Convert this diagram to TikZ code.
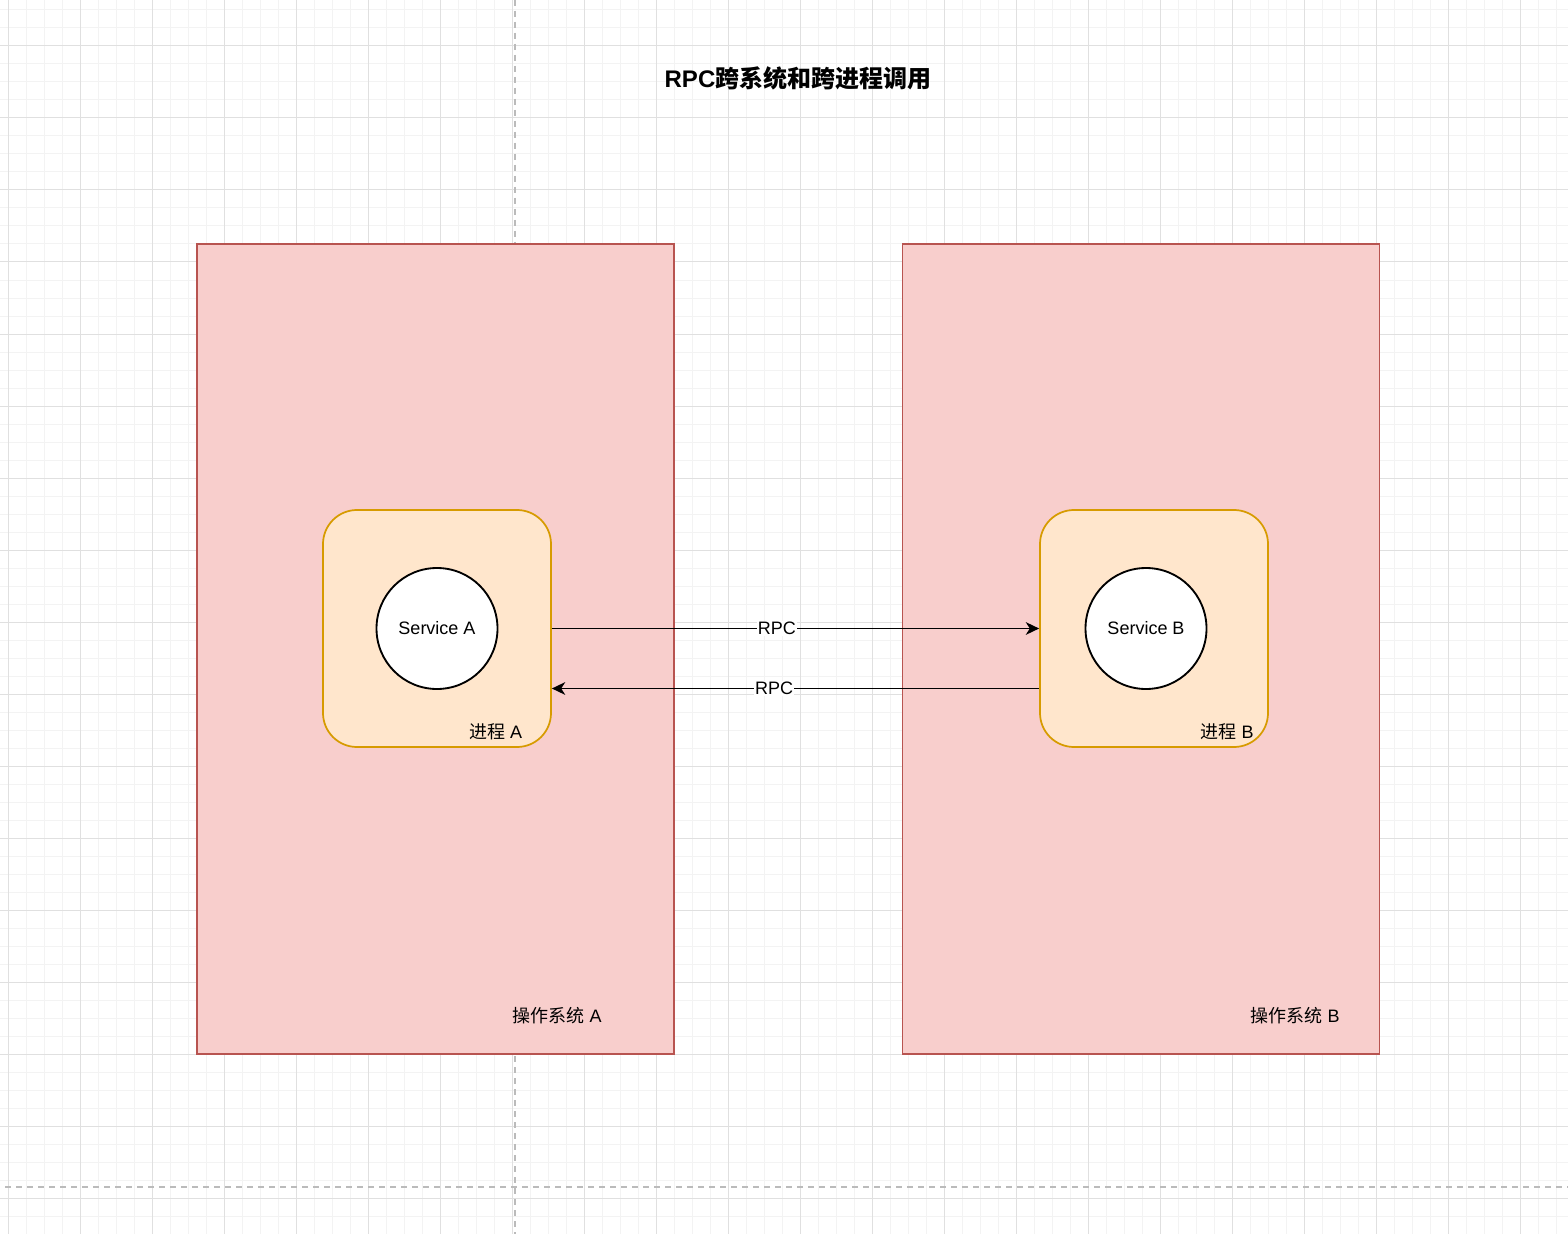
\documentclass[tikz,border=0pt]{standalone}
\usepackage{fontspec}
\setmainfont{Liberation Sans}
\newfontfamily\cjk{Noto Sans CJK SC}
\usetikzlibrary{arrows.meta,calc}
\definecolor{osfill}{HTML}{F8CECC}
\definecolor{osdraw}{HTML}{B85450}
\definecolor{prfill}{HTML}{FFE6CC}
\definecolor{prdraw}{HTML}{D79B00}
\definecolor{gridmajor}{HTML}{E0E0E0}
\definecolor{gridminor}{HTML}{F3F3F3}
\definecolor{guide}{HTML}{BBBBBB}
\begin{document}
\begin{tikzpicture}[x=0.75pt,y=-0.75pt,
  osbox/.style={draw=osdraw,fill=osfill,line width=1.3pt,minimum width=357.75pt,minimum height=607.5pt,inner sep=0pt},
  procbox/.style={draw=prdraw,fill=prfill,line width=1.3pt,rounded corners=25.5pt,minimum width=171pt,minimum height=177.75pt,inner sep=0pt},
  svc/.style={circle,draw=black,fill=white,line width=1.4pt,minimum size=90.75pt,inner sep=0pt,font=\fontsize{13.5}{16}\selectfont},
  lbl/.style={font=\fontsize{13.5}{16}\selectfont,inner sep=1pt},
  rpc/.style={-{Stealth[length=10pt,width=9.5pt,inset=3pt]},line width=1.4pt},
  rpclbl/.style={fill=white,font=\fontsize{13.5}{16}\selectfont,inner sep=0.5pt},
  guideline/.style={draw=guide,line width=1.1pt,dash pattern=on 4.5pt off 3.75pt},
  gminor/.style={draw=gridminor,line width=0.75pt},
  gmajor/.style={draw=gridmajor,line width=0.75pt}
]
\useasboundingbox (0,0) rectangle (1568,1234);
\fill[white] (0,0) rectangle (1568,1234);
% grid
\foreach \x in {8,26,...,1568} \draw[gminor] (\x,0) -- (\x,1234);
\foreach \y in {10,28,...,1234} \draw[gminor] (0,\y) -- (1568,\y);
\foreach \x in {8,80,...,1568} \draw[gmajor] (\x,0) -- (\x,1234);
\foreach \y in {46,118,...,1234} \draw[gmajor] (0,\y) -- (1568,\y);
% guides
\coordinate (gvt) at (515,0);
\coordinate (gvb) at (515,1234);
\coordinate (ghl) at (5,1187);
\coordinate (ghr) at (1568,1187);
\draw[guideline] (gvt) -- (gvb);
\draw[guideline] (ghl) -- (ghr);
% title
\node[font=\bfseries\fontsize{18}{22}\selectfont] (title) at (798,78) {RPC{\cjk 跨系统和跨进程调用}};
% operating systems
\node[osbox] (osA) at (435.5,649) {};
\node[osbox] (osB) at (1141,649) {};
\node[lbl] (osAl) at (557,1016) {{\cjk 操作系统} A};
\node[lbl] (osBl) at (1295,1016) {{\cjk 操作系统} B};
% processes
\node[procbox] (pA) at (437,628.5) {};
\node[procbox] (pB) at (1154,628.5) {};
\node[lbl] (pAl) at (495.5,732) {{\cjk 进程} A};
\node[lbl] (pBl) at (1227,732) {{\cjk 进程} B};
% services
\node[svc] (sA) at (437,628.5) {Service A};
\node[svc] (sB) at (1146,628.5) {Service B};
% RPC calls
\draw[rpc] (pA.east) -- node[rpclbl,pos=0.462] (r1) {RPC} (pB.west);
\draw[rpc] ($(pB.west)+(0,60)$) -- node[rpclbl,pos=0.544] (r2) {RPC} ($(pA.east)+(0,60)$);
\end{tikzpicture}
\end{document}
